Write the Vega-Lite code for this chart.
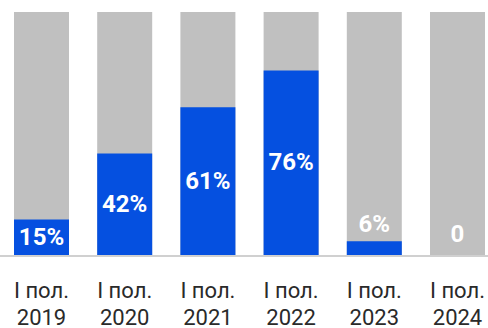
{
  "$schema": "https://vega.github.io/schema/vega-lite/v6.json",
  "autosize": "none",
  "width": 488,
  "height": 244,
  "padding": {"top": 12, "left": 0, "right": 0, "bottom": 72},
  "background": "white",
  "config": {"view": {"stroke": null}},
  "data": {
    "values": [
      {"year": "2019", "value": 15, "total": 100, "label": "15%"},
      {"year": "2020", "value": 42, "total": 100, "label": "42%"},
      {"year": "2021", "value": 61, "total": 100, "label": "61%"},
      {"year": "2022", "value": 76, "total": 100, "label": "76%"},
      {"year": "2023", "value": 6, "total": 100, "label": "6%"},
      {"year": "2024", "value": 0, "total": 100, "label": "0"}
    ]
  },
  "transform": [
    {"calculate": "datum.value < 10 ? 8.6 + datum.value * 0.7 : datum.value / 2", "as": "labelY"}
  ],
  "encoding": {
    "x": {
      "field": "year",
      "type": "nominal",
      "sort": null,
      "scale": {"range": [14, 485], "paddingInner": 0.339, "paddingOuter": 0},
      "axis": {
        "title": null,
        "domain": false,
        "ticks": false,
        "labelAngle": 0,
        "labelExpr": "['I пол.', datum.label]",
        "labelFont": "Roboto",
        "labelFontSize": 22,
        "labelColor": "#2a2a2a",
        "labelLineHeight": 27,
        "labelPadding": 24,
        "labelBaseline": "top"
      }
    }
  },
  "layer": [
    {
      "mark": {"type": "bar", "color": "#c0c0c0"},
      "encoding": {
        "y": {"field": "total", "type": "quantitative", "scale": {"domain": [0, 100], "nice": false}, "axis": null}
      }
    },
    {
      "mark": {"type": "bar", "color": "#0550e0"},
      "encoding": {
        "y": {"field": "value", "type": "quantitative"}
      }
    },
    {
      "mark": {"type": "rule", "color": "#d0d0d0", "strokeWidth": 2},
      "encoding": {"y": {"datum": 0}, "x": null}
    },
    {
      "mark": {"type": "text", "color": "white", "font": "Roboto", "fontWeight": "bold", "fontSize": 24, "baseline": "middle"},
      "encoding": {
        "y": {"field": "labelY", "type": "quantitative"},
        "text": {"field": "label"}
      }
    }
  ]
}
